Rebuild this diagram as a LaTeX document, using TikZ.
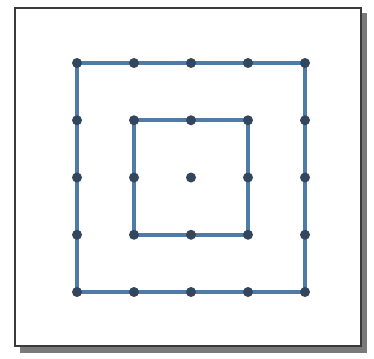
\documentclass[tikz,border=0pt]{standalone}
\usepackage{tikz}
\usetikzlibrary{calc}
\definecolor{bandLine}{HTML}{4F7BA8}
\definecolor{pegFill}{HTML}{34465E}
\definecolor{frameLine}{HTML}{3A3A3A}
\definecolor{shadowGray}{HTML}{7A7A7A}

\begin{document}
\begin{tikzpicture}[
  x=0.5mm, y=-0.5mm,
  board/.style={draw=frameLine, line width=3.8pt, fill=white},
  shade/.style={fill=shadowGray},
  band/.style={draw=bandLine, line width=5pt, line join=round},
  peg/.style={circle, fill=pegFill, inner sep=0pt, minimum size=5mm},
]
  \useasboundingbox (0,0) rectangle (374,358);

  % board with its shadow
  \fill[shade] (20,13) rectangle (367,353);
  \draw[board] (15,8) rectangle (361,346);

  % 5 x 5 pegs, outer ring, inner ring and centre
  \foreach \i in {0,...,4} {
    \foreach \j in {0,...,4} {
      \coordinate (c-\i-\j) at ({77+57*\i}, {63+57.25*\j});
    }
  }

  % bands
  \draw[band] (c-0-0) -- (c-4-0) -- (c-4-4) -- (c-0-4) -- cycle;
  \draw[band] (c-1-1) -- (c-3-1) -- (c-3-3) -- (c-1-3) -- cycle;

  \foreach \i in {0,...,4} {
    \node[peg] (top-\i) at (c-\i-0) {};
    \node[peg] (bot-\i) at (c-\i-4) {};
  }
  \foreach \j in {1,2,3} {
    \node[peg] (lft-\j) at (c-0-\j) {};
    \node[peg] (rgt-\j) at (c-4-\j) {};
  }
  \node[peg] (in-nw) at (c-1-1) {};
  \node[peg] (in-n)  at (c-2-1) {};
  \node[peg] (in-ne) at (c-3-1) {};
  \node[peg] (in-w)  at (c-1-2) {};
  \node[peg] (mid)   at (c-2-2) {};
  \node[peg] (in-e)  at (c-3-2) {};
  \node[peg] (in-sw) at (c-1-3) {};
  \node[peg] (in-s)  at (c-2-3) {};
  \node[peg] (in-se) at (c-3-3) {};
\end{tikzpicture}
\end{document}
